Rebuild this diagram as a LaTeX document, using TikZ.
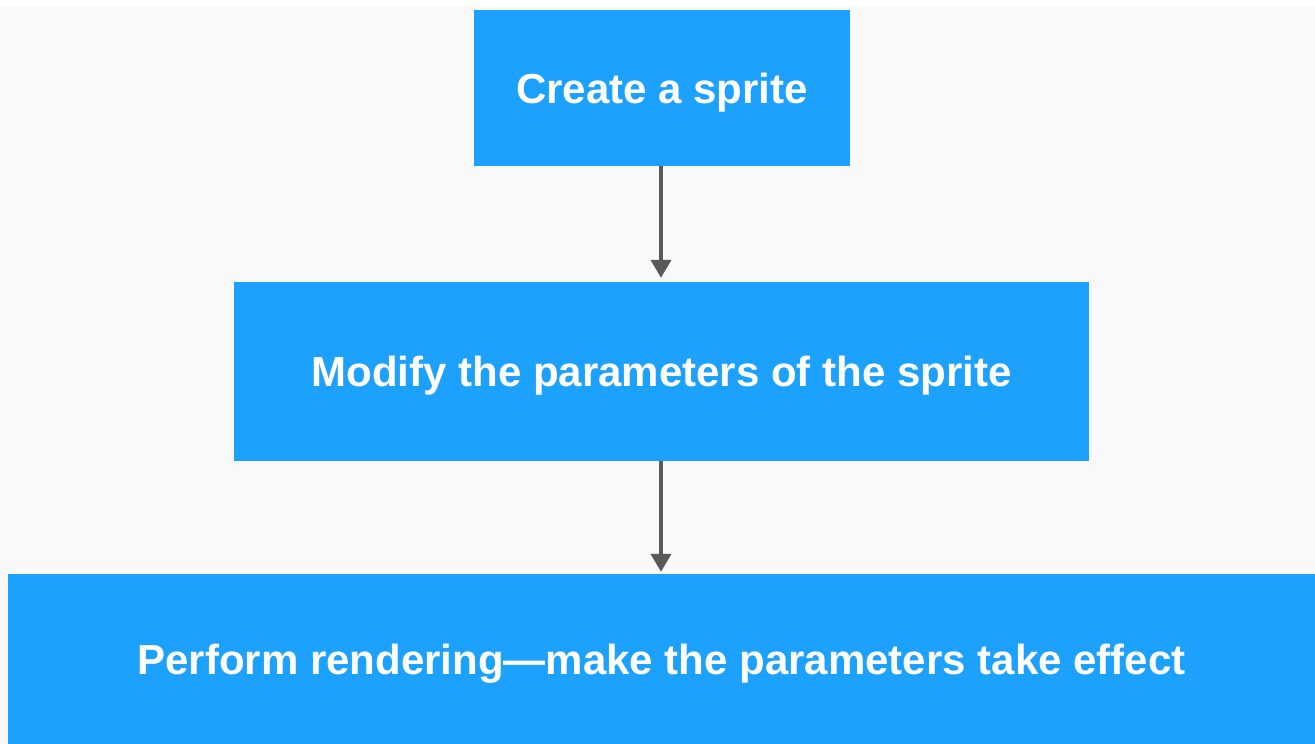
\documentclass[tikz,border=0pt]{standalone}
\usepackage{fontspec}
\setmainfont{Liberation Sans}
\usetikzlibrary{arrows.meta}
\definecolor{boxblue}{RGB}{29,161,255}
\definecolor{bggray}{RGB}{249,249,249}
\definecolor{arrowgray}{RGB}{89,89,89}
\tikzset{
  x=1pt,y=-1pt,
  stepbox/.style={fill=boxblue,draw=none,text=white,font=\fontsize{42}{48}\selectfont\bfseries,inner sep=0pt,text depth=0pt},
  flow/.style={draw=arrowgray,line width=4pt,-{Triangle[length=18pt,width=20pt]}}
}
\begin{document}
\begin{tikzpicture}
\useasboundingbox (0,0) rectangle (1315,744);
\fill[white] (0,0) rectangle (1315,744);
\fill[bggray] (0,6) rectangle (1315,744);
\node[stepbox,minimum width=376pt,minimum height=156pt] (a) at (662,88) {Create a sprite};
\node[stepbox,minimum width=855pt,minimum height=179pt] (b) at (661.5,371.5) {Modify the parameters of the sprite};
\node[stepbox,minimum width=1307pt,minimum height=170pt] (c) at (661.5,659) {Perform rendering—make the parameters take effect};
\draw[flow] (a.south -| 661,0) -- ([yshift=4pt]b.north -| 661,0);
\draw[flow] (b.south -| 661,0) -- ([yshift=2pt]c.north -| 661,0);
\end{tikzpicture}
\end{document}
